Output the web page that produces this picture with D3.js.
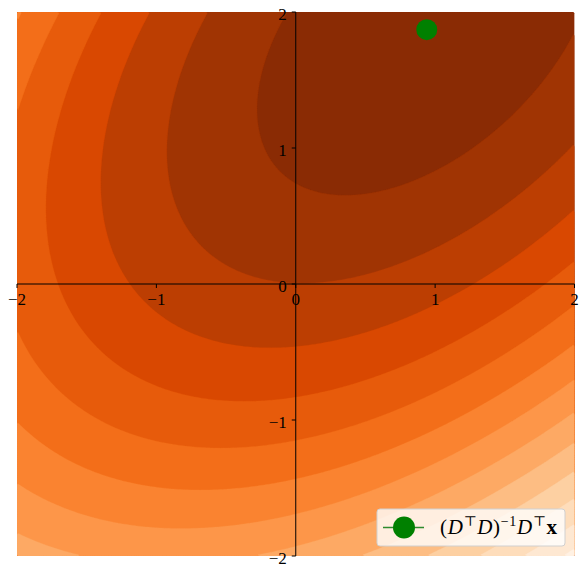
<!DOCTYPE html>
<html>
<head>
<meta charset="utf-8">
<script src="https://cdn.jsdelivr.net/npm/d3@7"></script>
<style>
  body { margin: 0; background: #fff; }
  svg text { font-family: "Liberation Serif", "DejaVu Serif", serif; fill: #000; }
</style>
</head>
<body>
<div id="chart"></div>
<script>
var xTicks = [-2, -1, 0, 1, 2];
var yTicks = [-2, -1, 0, 1, 2];
// least squares solution (D^T D)^-1 D^T x
var lsqPoint = [0.94, 1.87];
// D^T D, quadratic form of ||x - D w||^2 around the solution
var gram = [[0.977, -0.469], [-0.469, 0.977]];
var residual = 0.385;
var levels = [0, 1.5, 3, 4.5, 6, 7.5, 9, 10.5, 12, 13.5, 15, 16.5, 18, 19.5, 21];
var orangeStops = ["#fff5eb", "#fee6ce", "#fdd0a2", "#fdae6b", "#fd8d3c", "#f16913", "#d94801", "#a63603", "#7f2704"];

var width = 585, height = 572;
var margin = { top: 12, left: 17, right: 10.5, bottom: 16 };

var svg = d3.select("#chart")
  .append("svg")
  .attr("width", width)
  .attr("height", height);

var x = d3.scaleLinear().domain([-2, 2]).range([margin.left, width - margin.right]);
var y = d3.scaleLinear().domain([-2, 2]).range([height - margin.bottom, margin.top]);

// grid for the contour fill
var n = 240;
var gridX = d3.scaleLinear().domain([0, n]).range([-2, 2]);
var gridY = d3.scaleLinear().domain([0, n]).range([2, -2]);

var values = new Array(n * n);
for (var j = 0; j < n; j++) {
  for (var i = 0; i < n; i++) {
    var u = gridX(i + 0.5) - lsqPoint[0];
    var v = gridY(j + 0.5) - lsqPoint[1];
    values[j * n + i] = residual + gram[0][0] * u * u + 2 * gram[0][1] * u * v + gram[1][1] * v * v;
  }
}

var oranges = d3.scaleLinear()
  .domain(d3.range(orangeStops.length).map(function(k) { return k / (orangeStops.length - 1); }))
  .range(orangeStops)
  .interpolate(d3.interpolateRgb);

var lo = levels[0], hi = levels[levels.length - 1];
function bandColor(k) {
  var mid = (levels[k] + levels[k + 1]) / 2;
  return oranges(1 - (mid - lo) / (hi - lo));
}

var contours = d3.contours()
  .size([n, n])
  .thresholds(levels.slice(0, -1))(values);

var path = d3.geoPath(d3.geoTransform({
  point: function(px, py) { this.stream.point(x(gridX(px)), y(gridY(py))); }
}));

svg.append("clipPath").attr("id", "plot-clip")
  .append("rect")
  .attr("x", x(-2)).attr("y", y(2))
  .attr("width", x(2) - x(-2)).attr("height", y(-2) - y(2));

svg.append("g")
  .attr("clip-path", "url(#plot-clip)")
  .selectAll("path")
  .data(contours)
  .enter().append("path")
  .attr("d", path)
  .attr("fill", function(d, k) { return bandColor(k); })
  .attr("stroke", function(d, k) { return bandColor(k); })
  .attr("stroke-width", 0.3);

// axes through the origin
function fmt(d) { return d < 0 ? "\u2212" + Math.abs(d) : String(d); }

var xAxis = svg.append("g").attr("class", "axis x-axis");
xAxis.append("line")
  .attr("x1", x(-2)).attr("x2", x(2))
  .attr("y1", y(0)).attr("y2", y(0))
  .attr("stroke", "#000").attr("stroke-width", 1);
xAxis.selectAll(".tick")
  .data(xTicks)
  .enter().append("line")
  .attr("class", "tick")
  .attr("x1", function(d) { return x(d); }).attr("x2", function(d) { return x(d); })
  .attr("y1", y(0)).attr("y2", y(0) + 4)
  .attr("stroke", "#000").attr("stroke-width", 1);
xAxis.selectAll(".label")
  .data(xTicks)
  .enter().append("text")
  .attr("class", "label")
  .attr("x", function(d) { return x(d); })
  .attr("y", y(0) + 20.5)
  .attr("text-anchor", "middle")
  .attr("font-size", 17)
  .text(fmt);

var yAxis = svg.append("g").attr("class", "axis y-axis");
yAxis.append("line")
  .attr("x1", x(0)).attr("x2", x(0))
  .attr("y1", y(-2)).attr("y2", y(2))
  .attr("stroke", "#000").attr("stroke-width", 1);
yAxis.selectAll(".tick")
  .data(yTicks)
  .enter().append("line")
  .attr("class", "tick")
  .attr("x1", x(0) - 4).attr("x2", x(0))
  .attr("y1", function(d) { return y(d); }).attr("y2", function(d) { return y(d); })
  .attr("stroke", "#000").attr("stroke-width", 1);
yAxis.selectAll(".label")
  .data(yTicks)
  .enter().append("text")
  .attr("class", "label")
  .attr("x", x(0) - 9)
  .attr("y", function(d) { return y(d) + 7.5; })
  .attr("text-anchor", "end")
  .attr("font-size", 17)
  .text(fmt);

// the solution point
svg.append("circle")
  .attr("cx", x(lsqPoint[0]))
  .attr("cy", y(lsqPoint[1]))
  .attr("r", 10.5)
  .attr("fill", "#008000");

// legend, lower right
var lg = svg.append("g")
  .attr("transform", "translate(" + (x(2) - 197.5) + "," + (y(-2) - 47) + ")");
lg.append("rect")
  .attr("width", 188).attr("height", 37).attr("rx", 3)
  .attr("fill", "#fff").attr("fill-opacity", 0.8)
  .attr("stroke", "#d0d0d0");
lg.append("line")
  .attr("x1", 6).attr("x2", 47).attr("y1", 18.5).attr("y2", 18.5)
  .attr("stroke", "#2e8b2e").attr("stroke-width", 1.6);
lg.append("circle")
  .attr("cx", 27).attr("cy", 18.5).attr("r", 11)
  .attr("fill", "#008000");

var lt = lg.append("text")
  .attr("x", 63).attr("y", 24.5)
  .attr("font-size", 21);
var parts = [
  { t: "(" },
  { t: "D", it: true },
  { t: "\u22a4", sup: true },
  { t: "D", it: true },
  { t: ")" },
  { t: "\u22121", sup: true },
  { t: "D", it: true },
  { t: "\u22a4", sup: true },
  { t: "x", bold: true }
];
var raised = false;
parts.forEach(function(p) {
  var s = lt.append("tspan").text(p.t);
  if (p.it) s.attr("font-style", "italic");
  if (p.bold) s.attr("font-weight", "bold");
  if (p.sup) { s.attr("font-size", 14); if (!raised) { s.attr("dy", -8); raised = true; } }
  else if (raised) { s.attr("dy", 8); raised = false; }
});
lt.attr("textLength", 117).attr("lengthAdjust", "spacing");
</script>
</body>
</html>
